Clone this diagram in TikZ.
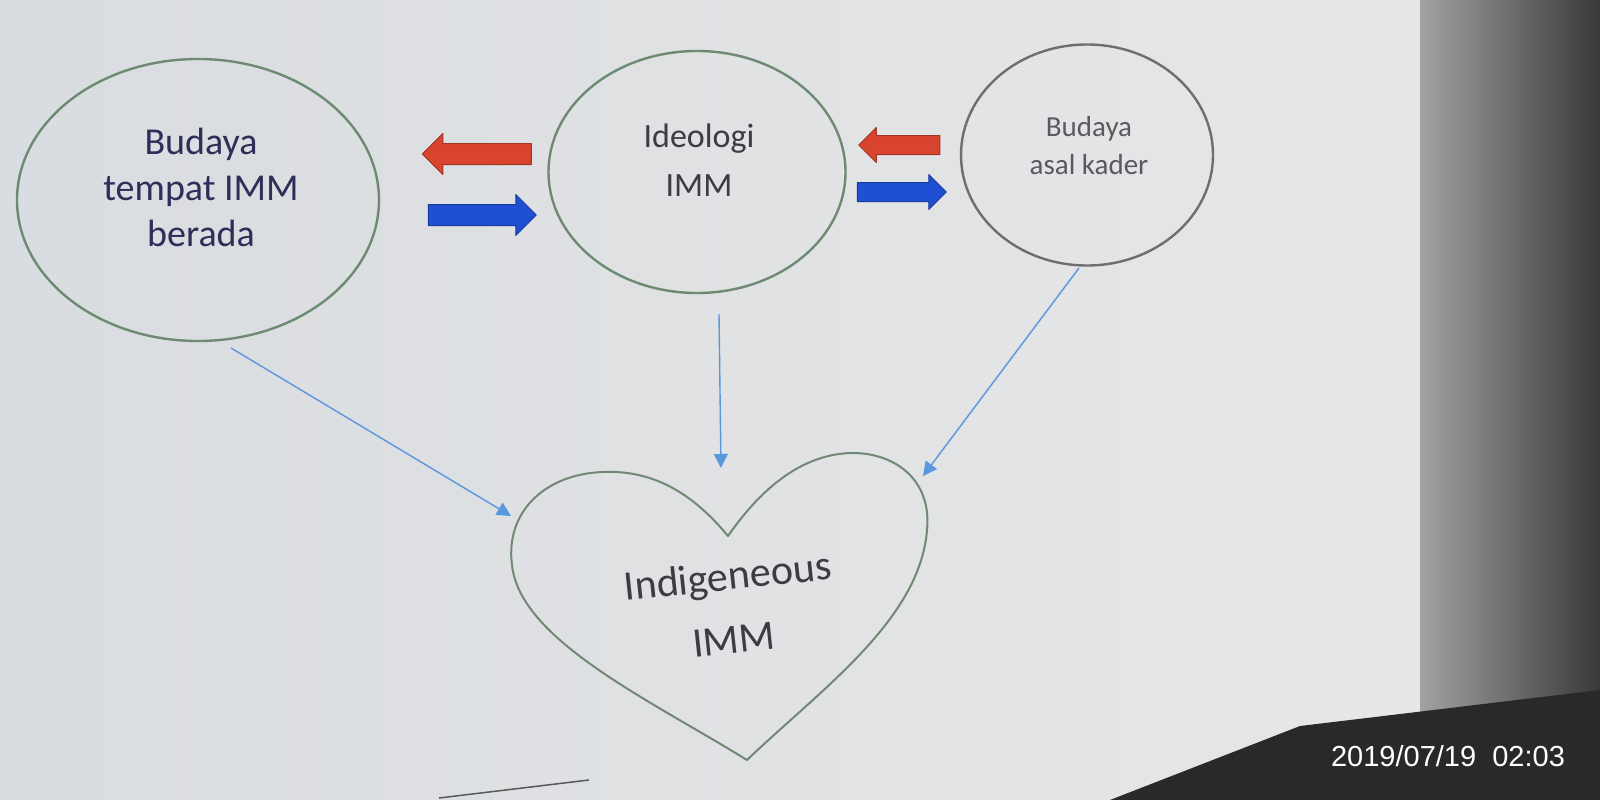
\documentclass[tikz,border=0pt]{standalone}
\usepackage{fontspec}
\setmainfont{Carlito}
\newfontfamily\stampfont{Liberation Sans}
\usetikzlibrary{arrows.meta,shapes.geometric,shapes.arrows}

\definecolor{paperl}{HTML}{D9DCE0}
\definecolor{paperr}{HTML}{E6E7E7}
\definecolor{bezell}{HTML}{A2A2A2}
\definecolor{bezeld}{HTML}{3A3838}
\definecolor{cornerdark}{HTML}{2A2828}
\definecolor{ringgreen}{HTML}{6E8A72}
\definecolor{ringgray}{HTML}{6E6E6E}
\definecolor{inknavy}{HTML}{2E2E58}
\definecolor{inkgray}{HTML}{3C3C44}
\definecolor{fatred}{HTML}{D8442E}
\definecolor{fatblue}{HTML}{1F4FD2}
\definecolor{linkblue}{HTML}{5A98DE}

\begin{document}
\begin{tikzpicture}[x=1pt, y=-1pt, line join=round,
  bubble/.style={ellipse, draw=ringgreen, line width=2.4pt, inner sep=0pt},
  bubbletext/.style={align=center, inner sep=0pt, text=inknavy},
  fatarrow/.style={single arrow, draw=#1!75!black, fill=#1, line width=1pt,
    inner sep=10pt, single arrow head extend=10pt, single arrow head indent=0pt},
  thinarr/.style={draw=linkblue, line width=1.4pt, -{Triangle[width=14pt,length=14pt]}}]

  % 钉死画布
  \path[use as bounding box] (0,0) rectangle (1600,800);

  % ════ 背景（屏幕 + 右侧边框 + 右下暗角）════
  \shade[left color=paperl, right color=paperr] (0,0) rectangle (1420,800);
  \shade[left color=bezell, right color=bezeld] (1420,0) rectangle (1600,800);
  \fill[cornerdark] (1110,800) -- (1300,726) -- (1600,690) -- (1600,800) -- cycle;

  % ════ 三个椭圆 ════
  \node[bubble, minimum width=362pt, minimum height=282pt] (tempat) at (198,200) {};
  \node[bubble, minimum width=297pt, minimum height=242pt] (ideologi) at (697,172) {};
  \node[bubble, draw=ringgray, minimum width=252pt, minimum height=221pt] (asal) at (1087,155) {};

  \node[bubbletext, font=\fontsize{38}{46}\selectfont] (tempatlbl) at (201,187) {Budaya\\tempat IMM\\berada};
  \node[bubbletext, text=inkgray, font=\fontsize{34}{49}\selectfont] (ideologilbl) at (699,160) {Ideologi\\IMM};
  \node[bubbletext, text=inkgray!85, font=\fontsize{29}{38}\selectfont] (asallbl) at (1089,146) {Budaya\\asal kader};

  % ════ 粗箭头（红向左，蓝向右）════
  \node[fatarrow=fatred, shape border rotate=180, minimum height=109pt] (redleft) at (482,154) {};
  \node[fatarrow=fatblue, minimum height=108pt] (blueleft) at (477,215) {};
  \node[fatarrow=fatred, shape border rotate=180, minimum height=81pt,
        inner sep=9pt, single arrow head extend=8pt] (redright) at (904,145) {};
  \node[fatarrow=fatblue, minimum height=89pt,
        inner sep=9pt, single arrow head extend=8pt] (blueright) at (897,192) {};

  % ════ 心形 ════
  \draw[ringgreen!80!gray, line width=2pt]
    (728,536) .. controls (690,490) and (650,470) .. (603,472)
    .. controls (545,474) and (505,512) .. (512,565)
    .. controls (520,640) and (650,700) .. (747,760)
    .. controls (820,690) and (920,620) .. (927,530)
    .. controls (932,480) and (895,452) .. (850,453)
    .. controls (800,455) and (760,490) .. (728,536) -- cycle;
  \node[bubbletext, text=inkgray, rotate=6, font=\fontsize{42}{50}\selectfont] (indigen) at (728,579) {Indigeneous};
  \node[bubbletext, text=inkgray, rotate=6, font=\fontsize{42}{50}\selectfont] (indigenimm) at (734,640) {IMM};

  % ════ 细箭头（指向心形）════
  \coordinate (tempatfoot) at (231,348);
  \coordinate (ideologifoot) at (719,314);
  \coordinate (asalfoot) at (1079,268);
  \coordinate (heartleft) at (511,516);
  \coordinate (hearttop) at (721,468);
  \coordinate (heartright) at (923,476);
  \draw[thinarr] (tempatfoot) -- (heartleft);
  \draw[thinarr] (ideologifoot) -- (hearttop);
  \draw[thinarr] (asalfoot) -- (heartright);

  % 底部残线
  \draw[gray!70!black, line width=1.5pt] (439,798) -- (589,780);

  % ════ 时间戳 ════
  \node[text=white, inner sep=0pt, font=\stampfont\fontsize{29}{34}\selectfont] (stamp) at (1448,756) {2019/07/19\ \ 02:03};
\end{tikzpicture}
\end{document}
